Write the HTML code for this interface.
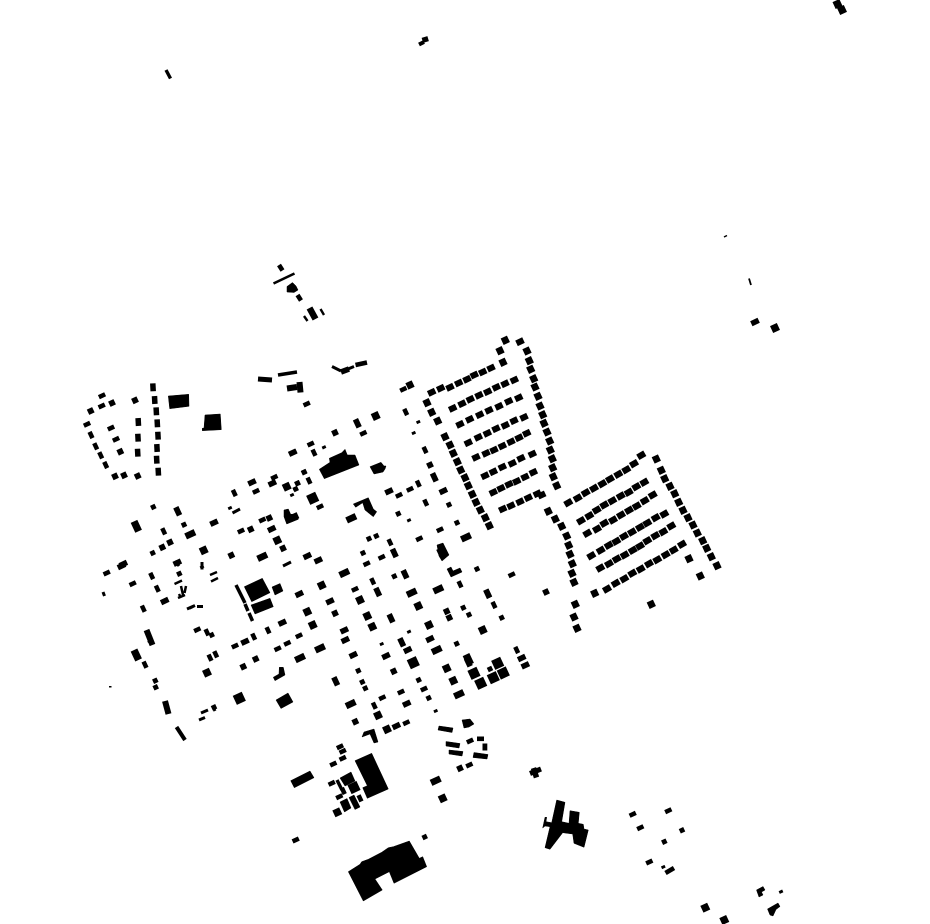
<!DOCTYPE html>
<html><head><meta charset="utf-8"><title>Figure ground</title>
<style>
html,body{margin:0;padding:0;background:#fff}
svg{display:block}
path{fill:none;stroke:none}
path.ln{stroke:#000;fill:none}
marker rect{stroke:#000;stroke-width:.9}
polygon{stroke:#000;stroke-width:.5}
.t{marker:url(#t)}.s{marker:url(#s)}.u{marker:url(#u)}.q{marker:url(#q)}.Q{marker:url(#Q)}
.l{marker:url(#l)}.m{marker:url(#m)}.L{marker:url(#L)}.p{marker:url(#p)}.P{marker:url(#P)}
.V{marker:url(#V)}.r{marker:url(#r)}.c{marker:url(#c)}.n{marker:url(#n)}.v{marker:url(#v)}
</style></head>
<body>
<svg width="930" height="924" viewBox="0 0 930 924" xmlns="http://www.w3.org/2000/svg">
<defs>
<marker id="t" markerUnits="userSpaceOnUse" overflow="visible" orient="0"><rect x="-1.5" y="-1" width="3" height="2" transform="rotate(-25)"/></marker>
<marker id="s" markerUnits="userSpaceOnUse" overflow="visible" orient="0"><rect x="-2" y="-2" width="4" height="4" transform="rotate(-25)"/></marker>
<marker id="u" markerUnits="userSpaceOnUse" overflow="visible" orient="0"><rect x="-2.5" y="-2.5" width="5" height="5" transform="rotate(-25)"/></marker>
<marker id="q" markerUnits="userSpaceOnUse" overflow="visible" orient="0"><rect x="-3.3" y="-3.3" width="6.6" height="6.6" transform="rotate(-25)"/></marker>
<marker id="Q" markerUnits="userSpaceOnUse" overflow="visible" orient="0"><rect x="-4.5" y="-4.5" width="9" height="9" transform="rotate(-25)"/></marker>
<marker id="l" markerUnits="userSpaceOnUse" overflow="visible" orient="0"><rect x="-3" y="-1.8" width="6" height="3.6" transform="rotate(-25)"/></marker>
<marker id="m" markerUnits="userSpaceOnUse" overflow="visible" orient="0"><rect x="-3.6" y="-2.3" width="7.2" height="4.6" transform="rotate(-25)"/></marker>
<marker id="L" markerUnits="userSpaceOnUse" overflow="visible" orient="0"><rect x="-4.7" y="-2.8" width="9.4" height="5.6" transform="rotate(-25)"/></marker>
<marker id="p" markerUnits="userSpaceOnUse" overflow="visible" orient="0"><rect x="-1.8" y="-3" width="3.6" height="6" transform="rotate(-25)"/></marker>
<marker id="P" markerUnits="userSpaceOnUse" overflow="visible" orient="0"><rect x="-2.4" y="-4" width="4.8" height="8" transform="rotate(-25)"/></marker>
<marker id="V" markerUnits="userSpaceOnUse" overflow="visible" orient="0"><rect x="-3.2" y="-5" width="6.4" height="10" transform="rotate(-25)"/></marker>
<marker id="r" markerUnits="userSpaceOnUse" overflow="visible" orient="0"><rect x="-3.4" y="-2.6" width="6.8" height="5.2" transform="rotate(-25)"/></marker>
<marker id="c" markerUnits="userSpaceOnUse" overflow="visible" orient="0"><rect x="-3" y="-3.1" width="6" height="6.2" transform="rotate(-25)"/></marker>
<marker id="n" markerUnits="userSpaceOnUse" overflow="visible" orient="0"><rect x="-3.6" y="-2.7" width="7.2" height="5.4" transform="rotate(-30)"/></marker>
<marker id="v" markerUnits="userSpaceOnUse" overflow="visible" orient="0"><rect x="-2.3" y="-3.5" width="4.6" height="7" transform="rotate(-3)"/></marker>
</defs>
<rect width="930" height="924" fill="#fff"/>

<!-- north-east estate rows -->
<path class="r" d="M431.7 392.3 440.7 388.3 450 387.3 458.7 383 467 379.3 474.3 375 482.7 372 491 368"/>
<path class="r" d="M452.7 408.3 462 403.7 470.3 399.3 479 395.3 487.7 391.7 496.3 387.3 505 383.7 514.3 380"/>
<path class="r" d="M460 424.3 469.7 419.3 479.7 414.7 489 410.3 499 406.3 508.7 401.3 518.7 397.7"/>
<path class="r" d="M468.3 442.7 478.3 437.3 487.3 433.3 496 428.7 505.3 425.3 514 420.7 524 417.3"/>
<path class="r" d="M476 457.3 486 453.3 494 450 502.3 446 511 441.7 519 437.7 526.7 433.3"/>
<path class="r" d="M485 475.7 493.3 471.7 502.3 467 512.3 463.3 521 458.3 532.3 454"/>
<path class="r" d="M493.3 492.3 501 488.3 509 484.3 516.7 481.3 525 477 533.3 472.3"/>
<path class="r" d="M502.7 509 511 505.7 520 501.7 528.3 497.7 537.3 493.7 541.7 495"/>
<path class="c" d="M445 436.7 450 445 453.3 453.3 457.3 461.7 460.7 470 465 477.7 468.3 485.7 472.3 494.3 476 502.3 480.3 510 485.3 517.7 489.3 525.7"/>
<path class="c" d="M427 402.7 431.7 412.3 437.7 421 503 362.3 500 350.7 505.3 340.3 410 385"/>
<path class="r" d="M520 341.7"/>
<path class="l" d="M403.3 389.3"/>
<path class="c" d="M527 351 529.3 360.7 530.7 369.3 533.7 378.7 535 387 538 396.3 540 406 542.7 414.7 544 423.3 547 432 549.7 441 550.3 450 552.3 458.7 552.7 467.7 553.3 476.7 556.7 485.7"/>

<!-- south-east estate rows -->
<path class="n" d="M568.3 502.7 577.7 498 585.7 492.7 594 488.3 602.3 483.7 610 479 618.3 474.3 626.3 469.7 634 463.7 641.3 455.3"/>
<path class="n" d="M581 520.7 589.3 515.7 596.7 510 604.3 505 612.3 500.7 620.7 496 628.7 492.3 636.3 486.7 644.3 482.3"/>
<path class="n" d="M587.3 533.3 597 529 604.3 523.3 613 520 621 515 629 510.3 636.7 506 644.7 500.7 652.7 495"/>
<path class="n" d="M591.3 555.7 600.7 550.3 608.7 545.3 616.3 541.3 624 536.3 632 532 640 527.3 647.3 523 655.7 517.7 664.3 514"/>
<path class="n" d="M600.3 568 609 563.7 616.7 559 624.7 555 632.7 550.3 640 546 647.3 540.7 655.3 535.7 663.3 531.7 671.3 526"/>
<path class="n" d="M607 589 615.7 583.3 624.3 578.7 632.3 573.3 640.7 569 649 563.7 657.3 559.7 665.7 554.7 673.7 550 682 544.3"/>
<path class="c" d="M656.3 459 661.3 470.3 664.7 478.7 670 486.3 674.7 493.7 678.7 502.3 683 510.3 688 517.7 693 525 697.3 533 702.7 540.7 706.7 548.3 711.3 556.7 717 565.7 689 558.7 700.3 576"/>
<path class="c" d="M548.3 511.3 555.3 519 561.7 526.3 566.7 536 568.7 545.3 570 554.3 572.3 563.7 572 573.3 574 582.3 575.3 604.3 574 617 577 628.3 594.7 593.3 651.3 604.3"/>
<path class="u" d="M546 592"/>

<!-- town centre -->
<path class="t" d="M413.7 433 418.3 422 230 508 292 495 295 489 202 567 191.3 607.3 324 447.3 409 520.3 409 631.7 381.7 644 435.7 711"/>
<path class="s" d="M398.3 513.7 449 504.7 457 522.7 369 538.7 376.3 536 363 553 477 569 394.3 576.3 304.3 472 463.3 607.7 469 614.7 501.7 617.7 358.3 670.7 418.7 680 362.3 682 365.3 688.3 428.7 698 456.7 643.7 153.3 507 184 524.7 152.7 553 179.3 573.7 155.3 680.7 155.7 687.3 211.7 635 214 707.3 490 669 297.3 483.3 295.7 489 297.7 483.3 304 472.3"/>
<path class="u" d="M430 465 335 432.7 449.3 617.7 335 613.3 446.7 611.3 393.7 671.3 355.3 721.7 170 542.3 162.3 547.3 231.3 555.3 283 548.3 255.7 659 243.3 666.7 250.7 529.3 269.3 518"/>
<path class="q" d="M375.7 416 321.7 585.3 367.3 616 372.3 626.7 429 625 307.3 611.7 312.7 625 360 600 418.3 606 482.7 630 446.7 668.3 453.3 680.7 378 715.3 387 729.3 277.3 540.3 286.7 486.7 203.7 550.3 442.7 798.3 207 672.7 775 328"/>
<path class="Q" d="M312.7 498.3 413.3 662.7 497.7 663.3 503.3 673 493.3 677.7 474 673.3 480.7 683.3 239.3 698.3"/>
<polygon points="276,700 288,693 293,702 281,708.5"/>
<path class="l" d="M306.7 404 363.3 433.3 310.7 444 293.3 452.3 320 506.7 440 529.7 419.3 538.7 511.7 574.7 381.7 557.3 366.7 563.7 355 589.3 299 635.7 424 689 401 692 382.3 697.7 406.3 722.7 410 489.3 399 495.3 241 531 262.3 520 274.3 477.3 256 491.3 307.7 556 106.7 573 132.7 583.7 235 646 287.3 643.3 277.7 648.7 197.3 629.7"/>
<path class="m" d="M443.3 491 389 491.3 307.3 556 318.3 560.3 299.3 594 330 601.3 344.3 630.3 345.3 640 430 639 407.7 650 353.3 655 386 656 521.7 658 525.3 665.3 406.7 703.7 396.3 726 292.7 452.7 272.3 483.3 252 482.3 214 522.7 271.7 529 282.3 622.7 245 641.7 164.7 601 177.3 562.7 123.3 564 121.5 566"/>
<path class="L" d="M466 537.3 344.3 573 438.3 589.3 436.7 650 320 648.3 300 658 350.7 704 262.3 556.7 190.3 534.3 459 694.3 351.3 518.3 293.3 517.3 411.7 592.7 435.7 780.7"/>
<path class="p" d="M405.7 412 425 450 418.3 483.7 425.7 502.7 390 542.3 372.7 581.3 494 605 516.7 650 374.3 705.7 314 452.7 309 480.7 234.3 493 163.7 531.3 151.7 576 157.3 588.7 143.3 608.7 268 630.3 253.7 636.7 207 632.3 210 657.7 215.7 654.3 145 664.7 460 584.3"/>
<path class="P" d="M357.3 423.3 434.3 477.3 394.3 553 377.7 592 405 574.3 487.7 593.7 487.7 593.7 391 618.3 401.7 642.3 468.3 662.3 335.7 681.3 177.7 511.3 440.7 552.7"/>
<path class="V" d="M136.3 526.3 136.3 655 468.3 659.5"/>
<polygon points="319.3,469.3 330,462.3 329.3,458.3 341.7,452.7 345,449.3 347.3,455 355,455 359,465 324.3,478.7"/>
<polygon points="370,466.7 381,462.3 384,466 386,466 385,469 383,472 374,474"/>
<polygon points="353.3,504 368.3,497.7 373.3,509 376.7,511.7 373.3,516.7 369,513.3 365,510 362.7,502.7 355.7,507.3"/>
<polygon points="284,510 288.3,509 290.7,514.3 296.7,514 298.3,519.3 286.7,524 284,516.7"/>
<polygon points="447,569 451,567 453,571 460,568 462,572 451,577"/>
<polygon points="437,545 443,543 449,555 442,561 439,556"/>
<polygon points="364,732 374,729 378,742 374,743 370,734 362,737"/>
<polygon points="273.3,677.3 279,674 279.3,667.3 283.3,667.3 285,675 275,680.7"/>

<!-- centre block west -->
<polygon points="244.3,586.7 262.3,578.3 270,592.7 251.7,601.7"/>
<polygon points="251,605 270,598.3 273.3,606.7 255,614"/>
<polygon points="272,587 280,583.5 283,591 275,595"/>
<path class="ln" stroke-width="3.5" d="M236 585 245 603M245 604 248 611M249 613 252.5 621"/>
<path class="ln" stroke-width="2.5" d="M210 575 217 572M211 581.5 218 578M174.5 584 182 580.5M181 586 183 595M186 586 184.5 593M179 594 181 598M178 598 185 595"/>
<path class="ln" stroke-width="3" d="M283 566 291 562M232.5 513 240 509M187 609 195 605.5M197 606.5 203 606.5M202 562 202 569.5M175 561 179 566"/>
<path class="ln" stroke-width="6" d="M146.5 630 152.5 645"/>
<path class="ln" stroke-width="6" d="M165 701 168.5 714"/>
<path class="ln" stroke-width="4" d="M176.5 727 185 740"/>
<path class="ln" stroke-width="5" d="M149 640 152 643"/>
<path class="ln" stroke-width="3" d="M201 713 208 710M199 720 205 717.5M213 707 215 711M103 592 104.5 596"/>
<rect x="109" y="686" width="2.5" height="1.5"/>

<!-- west block -->
<path class="v" d="M153 387.3 154.7 400 156.3 411.3 157.3 423.3 158 435.7 157 448 156.7 459.7 158.3 471.7 138.3 422 138 437.7 137.7 452.7"/>
<path class="u" d="M135 400.3 137.7 476 124 475.3 115 476.3 112 403 90.7 411 120.3 451.7"/>
<path class="l" d="M102 395.7 101.7 406 87 424.3 111 428 116 439.3"/>
<path class="p" d="M91 435 95.7 446.3 100.7 455.3 105.7 465"/>
<polygon points="168.3,396 188.7,394.3 189,406.3 169.7,408.7"/>
<polygon points="205,415 220.3,414 221.3,429.7 202.3,430.7 202.3,428.3 204,428"/>
<path class="ln" stroke-width="5" d="M258 379 272 380"/>
<path class="ln" stroke-width="3.6" d="M278 375 297 372"/>
<path class="ln" stroke-width="6" d="M287 388.5 297 387"/>
<path class="ln" stroke-width="6" d="M299.5 382 300.5 392.5"/>

<!-- north fragments -->
<path class="ln" stroke-width="2.6" d="M273.5 283.5 294.5 273.5"/>
<path class="ln" stroke-width="4.6" d="M279 265 282.5 270.5M297.5 295 301 300.5"/>
<polygon points="287,286.5 292.5,282.5 296,286 298,290 294,292.5 287,292"/>
<path class="ln" stroke-width="6.5" d="M309.5 308 315.5 319"/>
<path class="ln" stroke-width="2.4" d="M304 316 307.5 321M320.5 309 324 315"/>
<path class="ln" stroke-width="3" d="M332 366.5 341 371"/>
<path class="ln" stroke-width="5.5" d="M341 372 349 369"/>
<path class="ln" stroke-width="3" d="M348 369 354 366.5"/>
<path class="ln" stroke-width="4.6" d="M355.5 365 367 362.5"/>
<path class="ln" stroke-width="3.4" d="M166 70 170.5 78.5"/>
<path class="ln" stroke-width="4" d="M419 44.5 424 42"/>
<path class="ln" stroke-width="6" d="M424.5 37 426 42"/>
<path class="q" d="M837.5 4 842 10"/>
<path class="ln" stroke-width="1.5" d="M724 237 727 235.5"/>
<path class="ln" stroke-width="1.8" d="M749 278.5 751 285"/>
<path class="m" d="M755 322"/>

<!-- south centre cluster -->
<polygon points="439,726 453,728 452,732.5 438,730"/>
<polygon points="462,720 470,719 474,724 469,727 464,728"/>
<polygon points="446,741.5 460,743.5 459,748 446,746"/>
<polygon points="449,750 463,751.5 462,756 449,754"/>
<polygon points="474,752.5 488,754.5 487,759 473,757.5"/>
<path class="l" d="M470 741 469.3 765"/>
<rect x="477" y="736.5" width="7" height="4.6"/>
<rect x="482.5" y="743.5" width="4.8" height="7"/>
<path class="u" d="M460 768.3"/>
<polygon points="355,760.7 371.7,753.3 388.3,789 367.3,798.3 362.7,787.7 367.3,785.7"/>
<polygon points="290.7,780.7 310,771 314,777.7 294.3,787.7"/>
<path class="l" d="M340 746.7 342.7 751.3 342.7 758.3 333.3 764 331.7 783.3 339.3 796.7"/>
<polygon points="340,778 351,772 355,781 345,786"/>
<path class="ln" stroke-width="3.4" d="M337 780 342 790"/>
<path class="p" d="M343.3 791 360 798.3"/>
<path class="Q" d="M354 787.5"/>
<path class="q" d="M337.3 812.3"/>
<polygon points="340,802 347,798.5 351,808 344.5,812"/>
<polygon points="349,797.5 354,795 360,807 355,809.5"/>
<polygon points="348.3,871.7 360,864.3 361.7,861.7 368.3,859.3 381.7,852.3 388.3,847.7 393.3,846.7 409.3,841 419.3,858.3 422.7,856.7 426.7,866.7 394,883.3 389.3,871.7 375,879 382.3,890 363.3,901"/>
<path class="l" d="M295.7 840"/>
<path class="s" d="M424.7 837"/>
<path class="ln" stroke-width="5" d="M530 773.5 541 769"/>
<path class="ln" stroke-width="5.5" d="M533.5 768 536.5 777.5"/>
<polygon points="556.7,800 565,802.3 561.7,821.7 569,823.3 570,810.7 579.3,812.3 578.3,823.3 583.3,824.3 584,829 588.3,830 584,847.3 574,843.3 572.7,834 562.7,832.7 550,849.3 545,847.7 550,826.7 545,826 542.7,828 545,817.3 546.7,817.3 546,821.7 551.7,822.7"/>
<path class="l" d="M632.7 814.3 668.3 810.7 640.3 827.7 649.3 862"/>
<path class="s" d="M682 830.3 664.3 841.7"/>
<path class="t" d="M663.3 867 781 891.7"/>
<path class="ln" stroke-width="4.6" d="M665.5 873 674 868"/>
<path class="q" d="M705.3 907.7 724.3 920"/>
<polygon points="756.5,890 763,886.5 765,890 761.5,892 763,895 759,897"/>
<polygon points="767.5,909 778,903 780,906.5 776,909.5 773,916 770,915"/>
</svg>
</body></html>
